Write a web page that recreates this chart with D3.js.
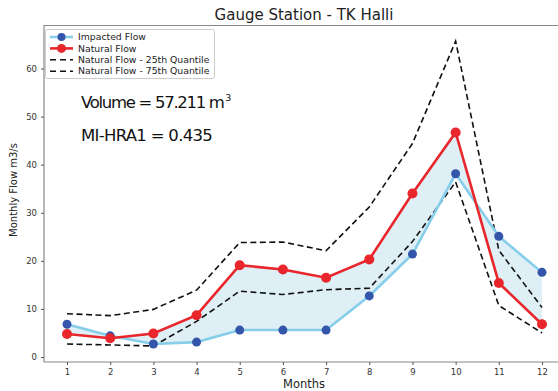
<!DOCTYPE html>
<html>
<head>
<meta charset="utf-8">
<script src="https://cdn.jsdelivr.net/npm/d3@7"></script>
<style>
  body { margin: 0; background: #fff; }
  text { font-family: "DejaVu Sans", sans-serif; }
</style>
</head>
<body>
<svg width="558" height="391"></svg>
<script>
const months = [1, 2, 3, 4, 5, 6, 7, 8, 9, 10, 11, 12]
const impacted = [6.8, 4.4, 2.7, 3.1, 5.6, 5.6, 5.6, 12.7, 21.4, 38.1, 25.1, 17.6]
const natural = [4.8, 3.9, 4.9, 8.7, 19.1, 18.2, 16.5, 20.3, 34.0, 46.7, 15.4, 6.8]
const q25 = [2.7, 2.5, 2.3, 7.4, 13.7, 13.0, 14.0, 14.3, 24.0, 36.4, 10.7, 5.0]
const q75 = [9.0, 8.6, 9.9, 13.9, 23.8, 23.9, 22.1, 31.2, 44.4, 65.7, 22.2, 10.3]
const yTicks = [0, 10, 20, 30, 40, 50, 60]
const legendNames = ["Impacted Flow", "Natural Flow", "Natural Flow - 25th Quantile", "Natural Flow - 75th Quantile"]

var svg = d3.select("svg")
var x = d3.scaleLinear().domain([1, 12]).range([67, 542])
var y = d3.scaleLinear().domain([0, 60]).range([357, 68.5])

// frame
svg.append("line").attr("x1", 44).attr("x2", 558).attr("y1", 25.5).attr("y2", 25.5).attr("stroke", "#888").attr("stroke-width", 1.2)
svg.append("line").attr("x1", 44).attr("x2", 44).attr("y1", 25).attr("y2", 362).attr("stroke", "#888").attr("stroke-width", 1.2)

var xAxis = svg.append("g")
    .attr("transform", "translate(0,362)")
    .call(d3.axisBottom(x).tickValues(months).tickSize(3).tickPadding(4).tickFormat(d3.format("d")))
xAxis.select(".domain").attr("d", "M44,0H558").attr("stroke", "#888").attr("stroke-width", 1.2)

var yAxis = svg.append("g")
    .attr("transform", "translate(44,0)")
    .call(d3.axisLeft(y).tickValues(yTicks).tickSize(3).tickPadding(4))
yAxis.select(".domain").remove()

svg.selectAll(".tick line").attr("stroke", "#555")
svg.selectAll(".tick text").attr("fill", "#333").style("font-size", "8.5px")

// fill between impacted and natural
var area = d3.area()
    .x((d, i) => x(months[i]))
    .y0((d, i) => y(natural[i]))
    .y1(d => y(d))
svg.append("path")
    .datum(impacted)
    .attr("d", area)
    .attr("fill", "#add8e6")
    .attr("opacity", 0.4)

var line = d3.line().x((d, i) => x(months[i])).y(d => y(d))

svg.append("path").datum(q75).attr("d", line)
    .attr("fill", "none").attr("stroke", "#111").attr("stroke-width", 1.6).attr("stroke-dasharray", "6,3.5")
svg.append("path").datum(q25).attr("d", line)
    .attr("fill", "none").attr("stroke", "#111").attr("stroke-width", 1.6).attr("stroke-dasharray", "6,3.5")

svg.append("path").datum(impacted).attr("d", line)
    .attr("fill", "none").attr("stroke", "#87ceeb").attr("stroke-width", 2.6)
svg.selectAll("circle.imp")
    .data(impacted)
    .join("circle")
    .attr("class", "imp")
    .attr("cx", (d, i) => x(months[i]))
    .attr("cy", d => y(d))
    .attr("r", 4.5)
    .attr("fill", "#3355aa")

svg.append("path").datum(natural).attr("d", line)
    .attr("fill", "none").attr("stroke", "#e8262b").attr("stroke-width", 2.6)
svg.selectAll("circle.nat")
    .data(natural)
    .join("circle")
    .attr("class", "nat")
    .attr("cx", (d, i) => x(months[i]))
    .attr("cy", d => y(d))
    .attr("r", 5)
    .attr("fill", "#e8262b")

// titles
svg.append("text").attr("x", 304).attr("y", 20).attr("text-anchor", "middle")
    .style("font-size", "15px").attr("fill", "#222").text("Gauge Station - TK Halli")
svg.append("text").attr("x", 304).attr("y", 388).attr("text-anchor", "middle")
    .style("font-size", "11.5px").attr("fill", "#222").text("Months")
svg.append("text").attr("transform", "translate(17,190) rotate(-90)").attr("text-anchor", "middle")
    .style("font-size", "10px").attr("fill", "#222").text("Monthly Flow m3/s")

// annotations
var ann = svg.append("g").style("font-family", "Roboto, sans-serif").style("font-size", "16.5px").attr("fill", "#111")
var vol = ann.append("text").attr("x", 81).attr("y", 108).style("letter-spacing", "-1.3px")
vol.append("tspan").text("Volume = 57.211 m")
vol.append("tspan").attr("dx", 1.5).attr("dy", -7).style("font-size", "9.5px").style("letter-spacing", "0px").text("3")
ann.append("text").attr("x", 81).attr("y", 141).style("letter-spacing", "-0.7px").text("MI-HRA1 = 0.435")

// legend
var legend = svg.append("g")
legend.append("rect").attr("x", 45.5).attr("y", 29.5).attr("width", 169).attr("height", 49)
    .attr("fill", "#fff").attr("stroke", "#ccc").attr("rx", 2)
legendNames.forEach((name, i) => {
    var ly = 37 + i * 11.4
    if (i < 2) {
        legend.append("line").attr("x1", 50).attr("x2", 73).attr("y1", ly).attr("y2", ly)
            .attr("stroke", i == 0 ? "#87ceeb" : "#e8262b").attr("stroke-width", 2.6)
        legend.append("circle").attr("cx", 61.5).attr("cy", ly).attr("r", i == 0 ? 4 : 4.5)
            .attr("fill", i == 0 ? "#3355aa" : "#e8262b")
    } else {
        legend.append("line").attr("x1", 50).attr("x2", 73).attr("y1", ly).attr("y2", ly)
            .attr("stroke", "#111").attr("stroke-width", 1.6).attr("stroke-dasharray", "6,4")
    }
    legend.append("text").attr("x", 78).attr("y", ly + 3.2).style("font-size", "9.3px").attr("fill", "#222").text(name)
})
</script>
</body>
</html>
